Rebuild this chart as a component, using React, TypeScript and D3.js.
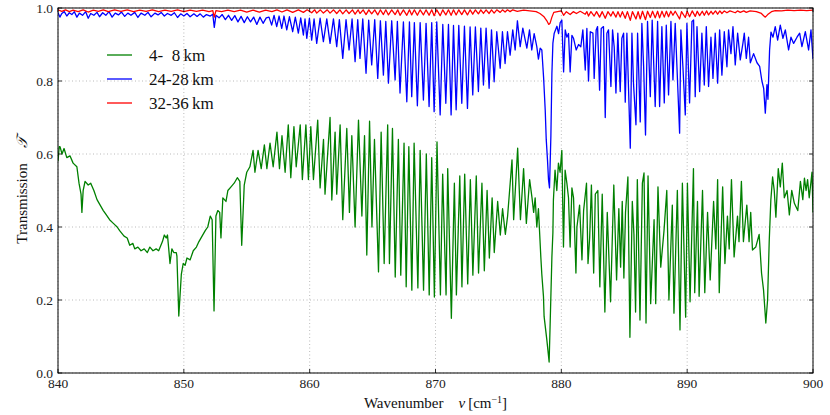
import * as d3 from "d3";

// transmission spectra, [wavenumber cm^-1, transmission]
const green4to8: [number, number][] = [
  [840.0, 0.58], [840.1, 0.62], [840.16, 0.62], [840.32, 0.6], [840.48, 0.615], [840.7, 0.59],
  [840.95, 0.595], [841.2, 0.575], [841.5, 0.565], [841.67, 0.52], [841.83, 0.49], [841.9, 0.44],
  [842.0, 0.5], [842.15, 0.525], [842.4, 0.515], [842.6, 0.52], [842.85, 0.5], [843.1, 0.475],
  [843.35, 0.46], [843.6, 0.445], [843.8, 0.435], [844.1, 0.42], [844.4, 0.41], [844.7, 0.4],
  [844.9, 0.39], [845.25, 0.375], [845.5, 0.37], [845.7, 0.35], [845.95, 0.355], [846.1, 0.34],
  [846.35, 0.345], [846.6, 0.335], [846.85, 0.34], [847.1, 0.33], [847.3, 0.345], [847.55, 0.335],
  [847.8, 0.34], [848.0, 0.335], [848.3, 0.36], [848.45, 0.378], [848.6, 0.37], [848.7, 0.378],
  [848.8, 0.34], [848.9, 0.3], [849.05, 0.34], [849.2, 0.33], [849.4, 0.33], [849.45, 0.32],
  [849.6, 0.156], [849.8, 0.27], [849.95, 0.3], [850.1, 0.295], [850.25, 0.315], [850.5, 0.31],
  [850.75, 0.335], [851.0, 0.345], [851.2, 0.36], [851.45, 0.375], [851.7, 0.39], [851.9, 0.4],
  [852.1, 0.43], [852.25, 0.42], [852.4, 0.17], [852.55, 0.43], [852.7, 0.445], [852.85, 0.44],
  [852.95, 0.37], [853.1, 0.48], [853.35, 0.47], [853.5, 0.5], [853.75, 0.51], [854.0, 0.52],
  [854.25, 0.535], [854.45, 0.525], [854.6, 0.35], [854.8, 0.515], [855.0, 0.55], [855.25, 0.565],
  [855.5, 0.61], [855.65, 0.55], [855.9, 0.61], [856.15, 0.56], [856.4, 0.625], [856.6, 0.56],
  [856.85, 0.63], [857.1, 0.565], [857.4, 0.66], [857.6, 0.56], [857.8, 0.65], [858.05, 0.55],
  [858.3, 0.68], [858.5, 0.535], [858.75, 0.675], [858.93, 0.565], [859.25, 0.68], [859.42, 0.53],
  [859.7, 0.68], [859.9, 0.53], [860.09, 0.675], [860.3, 0.53], [860.64, 0.693], [860.83, 0.507],
  [861.1, 0.64], [861.22, 0.49], [861.62, 0.7], [861.76, 0.474], [862.02, 0.66], [862.15, 0.49],
  [862.42, 0.68], [862.63, 0.42], [862.95, 0.67], [863.16, 0.44], [863.35, 0.65], [863.61, 0.4],
  [863.88, 0.693], [864.15, 0.43], [864.36, 0.65], [864.54, 0.323], [864.76, 0.69], [864.95, 0.4],
  [865.15, 0.64], [865.47, 0.277], [865.68, 0.66], [865.92, 0.3], [866.2, 0.68], [866.34, 0.3],
  [866.58, 0.67], [866.8, 0.263], [867.05, 0.64], [867.24, 0.268], [867.5, 0.63], [867.67, 0.236],
  [867.88, 0.62], [868.12, 0.227], [868.3, 0.63], [868.6, 0.233], [868.78, 0.61], [869.05, 0.227],
  [869.27, 0.6], [869.5, 0.214], [869.7, 0.59], [869.91, 0.208], [870.12, 0.633], [870.39, 0.214],
  [870.57, 0.545], [870.84, 0.214], [870.97, 0.56], [871.26, 0.15], [871.5, 0.52], [871.66, 0.214],
  [871.93, 0.54], [872.1, 0.236], [872.32, 0.545], [872.56, 0.244], [872.77, 0.53], [872.97, 0.268],
  [873.24, 0.54], [873.42, 0.274], [873.69, 0.52], [873.88, 0.28], [874.1, 0.5], [874.28, 0.315],
  [874.5, 0.48], [874.67, 0.33], [874.94, 0.47], [875.15, 0.378], [875.33, 0.45], [875.55, 0.38],
  [875.73, 0.43], [876.08, 0.584], [876.21, 0.42], [876.53, 0.616], [876.75, 0.42], [877.0, 0.56],
  [877.22, 0.41], [877.48, 0.53], [877.67, 0.48], [877.8, 0.44], [877.92, 0.48], [878.05, 0.4],
  [878.18, 0.45], [878.37, 0.318], [878.45, 0.27], [878.58, 0.21], [878.63, 0.155], [878.85, 0.09],
  [879.03, 0.03], [879.1, 0.12], [879.25, 0.318], [879.33, 0.385], [879.37, 0.474], [879.5, 0.556],
  [879.64, 0.5], [879.77, 0.575], [879.9, 0.55], [880.04, 0.61], [880.17, 0.345], [880.3, 0.556],
  [880.44, 0.52], [880.57, 0.48], [880.7, 0.345], [880.84, 0.507], [880.97, 0.48], [881.16, 0.274],
  [881.24, 0.4], [881.45, 0.46], [881.64, 0.31], [881.77, 0.445], [882.0, 0.52], [882.12, 0.3],
  [882.25, 0.37], [882.39, 0.515], [882.57, 0.274], [882.7, 0.49], [882.9, 0.5], [883.06, 0.236],
  [883.25, 0.49], [883.46, 0.167], [883.65, 0.44], [883.91, 0.195], [884.17, 0.515], [884.39, 0.255],
  [884.57, 0.45], [884.71, 0.29], [884.84, 0.47], [884.97, 0.26], [885.1, 0.44], [885.29, 0.537],
  [885.45, 0.098], [885.64, 0.47], [885.77, 0.38], [885.9, 0.167], [886.04, 0.53], [886.25, 0.145],
  [886.44, 0.52], [886.57, 0.548], [886.73, 0.137], [886.89, 0.54], [887.1, 0.19], [887.37, 0.42],
  [887.5, 0.19], [887.68, 0.51], [887.9, 0.29], [888.16, 0.39], [888.38, 0.5], [888.55, 0.2],
  [888.82, 0.46], [888.95, 0.164], [889.22, 0.5], [889.43, 0.118], [889.62, 0.52], [889.88, 0.153],
  [890.02, 0.52], [890.23, 0.195], [890.5, 0.56], [890.6, 0.22], [890.82, 0.47], [890.95, 0.21],
  [891.22, 0.5], [891.4, 0.22], [891.62, 0.44], [891.83, 0.255], [892.1, 0.47], [892.28, 0.34],
  [892.42, 0.53], [892.55, 0.22], [892.82, 0.51], [893.0, 0.3], [893.2, 0.43], [893.34, 0.34],
  [893.52, 0.53], [893.73, 0.318], [894.0, 0.43], [894.12, 0.36], [894.31, 0.525], [894.47, 0.36],
  [894.74, 0.46], [894.92, 0.36], [895.05, 0.44], [895.19, 0.337], [895.45, 0.345], [895.72, 0.38],
  [895.91, 0.274], [896.07, 0.227], [896.25, 0.137], [896.39, 0.2], [896.52, 0.36], [896.65, 0.474],
  [896.79, 0.537], [896.92, 0.5], [897.05, 0.427], [897.24, 0.56], [897.4, 0.51], [897.56, 0.575],
  [897.72, 0.48], [897.94, 0.5], [898.12, 0.433], [898.31, 0.5], [898.52, 0.465], [898.79, 0.445],
  [899.0, 0.525], [899.19, 0.475], [899.32, 0.534], [899.45, 0.5], [899.57, 0.53], [899.7, 0.48],
  [899.92, 0.55], [900.0, 0.44],
];

const blue24to28: [number, number][] = [
  [840.0, 0.988], [840.15, 0.975], [840.3, 0.985], [840.5, 0.99], [840.7, 0.978], [840.9, 0.987],
  [841.1, 0.982], [841.3, 0.99], [841.5, 0.975], [841.7, 0.986], [841.95, 0.98], [842.2, 0.99],
  [842.4, 0.972], [842.6, 0.985], [842.85, 0.98], [843.1, 0.988], [843.3, 0.976], [843.55, 0.987],
  [843.8, 0.98], [844.05, 0.99], [844.3, 0.975], [844.55, 0.986], [844.8, 0.981], [845.05, 0.989],
  [845.3, 0.977], [845.55, 0.986], [845.8, 0.98], [846.1, 0.988], [846.35, 0.974], [846.6, 0.986],
  [846.9, 0.98], [847.15, 0.988], [847.4, 0.976], [847.7, 0.986], [847.95, 0.981], [848.2, 0.988],
  [848.45, 0.978], [848.7, 0.985], [849.0, 0.98], [849.25, 0.987], [849.5, 0.974], [849.75, 0.984],
  [850.0, 0.978], [850.25, 0.985], [850.5, 0.976], [850.8, 0.984], [851.05, 0.977], [851.3, 0.984],
  [851.55, 0.975], [851.8, 0.982], [852.1, 0.978], [852.3, 0.983], [852.42, 0.947], [852.55, 0.98],
  [852.8, 0.973], [853.05, 0.982], [853.3, 0.968], [853.55, 0.98], [853.8, 0.966], [854.05, 0.979],
  [854.3, 0.962], [854.55, 0.977], [854.8, 0.96], [855.05, 0.976], [855.3, 0.962], [855.55, 0.975],
  [855.8, 0.955], [856.05, 0.975], [856.3, 0.958], [856.55, 0.973], [856.77, 0.975], [856.98, 0.953],
  [857.17, 0.98], [857.38, 0.949], [857.57, 0.978], [857.78, 0.944], [857.96, 0.978], [858.18, 0.94],
  [858.39, 0.976], [858.65, 0.935], [858.86, 0.975], [859.1, 0.931], [859.29, 0.973], [859.5, 0.926],
  [859.63, 0.97], [859.77, 0.917], [859.98, 0.972], [860.16, 0.912], [860.35, 0.97], [860.56, 0.903],
  [860.83, 0.972], [861.09, 0.908], [861.36, 0.97], [861.62, 0.903], [861.89, 0.97], [862.15, 0.894],
  [862.36, 0.968], [862.63, 0.862], [862.89, 0.968], [863.13, 0.885], [863.37, 0.97], [863.61, 0.853],
  [863.82, 0.968], [864.0, 0.862], [864.22, 0.97], [864.48, 0.821], [864.69, 0.967], [864.93, 0.844],
  [865.17, 0.968], [865.41, 0.807], [865.62, 0.965], [865.86, 0.816], [866.05, 0.963], [866.26, 0.794],
  [866.52, 0.965], [866.79, 0.803], [866.97, 0.963], [867.18, 0.767], [867.45, 0.962], [867.72, 0.743],
  [867.93, 0.962], [868.11, 0.757], [868.32, 0.96], [868.56, 0.732], [868.78, 0.96], [869.04, 0.748],
  [869.25, 0.958], [869.49, 0.73], [869.7, 0.96], [869.89, 0.716], [870.1, 0.962], [870.37, 0.707],
  [870.58, 0.955], [870.82, 0.739], [871.03, 0.955], [871.24, 0.707], [871.43, 0.952], [871.64, 0.721],
  [871.85, 0.952], [872.09, 0.739], [872.3, 0.95], [872.54, 0.725], [872.75, 0.948], [872.96, 0.762],
  [873.17, 0.948], [873.41, 0.771], [873.6, 0.945], [873.81, 0.789], [874.02, 0.945], [874.26, 0.78],
  [874.45, 0.94], [874.66, 0.798], [874.87, 0.935], [875.14, 0.835], [875.32, 0.935], [875.53, 0.848],
  [875.72, 0.935], [875.93, 0.871], [876.14, 0.94], [876.33, 0.885], [876.51, 0.965], [876.73, 0.894],
  [876.94, 0.945], [877.26, 0.89], [877.47, 0.94], [877.65, 0.885], [877.84, 0.93], [878.05, 0.894],
  [878.18, 0.86], [878.32, 0.89], [878.45, 0.885], [878.59, 0.81], [878.72, 0.72], [878.8, 0.64],
  [878.9, 0.584], [878.98, 0.53], [879.06, 0.507], [879.17, 0.65], [879.25, 0.82], [879.33, 0.904],
  [879.43, 0.93], [879.65, 0.95], [879.78, 0.93], [879.91, 0.96], [880.04, 0.967], [880.18, 0.825],
  [880.31, 0.94], [880.44, 0.92], [880.57, 0.93], [880.7, 0.825], [880.84, 0.925], [880.97, 0.917],
  [881.18, 0.885], [881.37, 0.9], [881.55, 0.894], [881.71, 0.94], [881.9, 0.83], [882.03, 0.944],
  [882.16, 0.8], [882.3, 0.935], [882.51, 0.931], [882.61, 0.807], [882.77, 0.94], [882.88, 0.949],
  [883.04, 0.775], [883.17, 0.944], [883.35, 0.949], [883.49, 0.7], [883.62, 0.931], [883.75, 0.94],
  [883.94, 0.785], [884.07, 0.94], [884.2, 0.894], [884.34, 0.767], [884.49, 0.931], [884.68, 0.771],
  [884.81, 0.917], [884.95, 0.931], [885.08, 0.742], [885.21, 0.931], [885.34, 0.78], [885.48, 0.616],
  [885.61, 0.931], [885.74, 0.79], [885.93, 0.68], [886.06, 0.931], [886.27, 0.688], [886.4, 0.958],
  [886.54, 0.84], [886.69, 0.652], [886.85, 0.963], [887.07, 0.757], [887.22, 0.967], [887.46, 0.73],
  [887.65, 0.963], [887.81, 0.73], [887.99, 0.949], [888.18, 0.74], [888.34, 0.953], [888.52, 0.762],
  [888.71, 0.963], [888.87, 0.803], [889.05, 0.958], [889.24, 0.794], [889.4, 0.657], [889.5, 0.94],
  [889.66, 0.84], [889.85, 0.707], [889.98, 0.958], [890.19, 0.74], [890.38, 0.963], [890.51, 0.967],
  [890.64, 0.757], [890.78, 0.949], [890.99, 0.771], [891.17, 0.931], [891.36, 0.789], [891.52, 0.949],
  [891.7, 0.785], [891.89, 0.92], [892.05, 0.807], [892.23, 0.931], [892.42, 0.794], [892.58, 0.94],
  [892.76, 0.816], [892.95, 0.935], [893.16, 0.839], [893.29, 0.94], [893.48, 0.875], [893.64, 0.949],
  [893.82, 0.844], [894.01, 0.931], [894.22, 0.858], [894.43, 0.903], [894.54, 0.931], [894.7, 0.862],
  [894.88, 0.92], [895.02, 0.85], [895.28, 0.875], [895.55, 0.85], [895.76, 0.84], [895.94, 0.8],
  [896.08, 0.78], [896.21, 0.712], [896.34, 0.79], [896.42, 0.75], [896.55, 0.885], [896.66, 0.934],
  [896.82, 0.92], [897.0, 0.949], [897.19, 0.912], [897.4, 0.953], [897.61, 0.917], [897.8, 0.94],
  [898.06, 0.885], [898.25, 0.92], [898.46, 0.903], [898.73, 0.92], [898.94, 0.931], [899.12, 0.894],
  [899.39, 0.935], [899.65, 0.885], [899.84, 0.94], [900.0, 0.86],
];

const red32to36: [number, number][] = [
  [840.0, 0.995], [840.3, 0.991], [840.6, 0.995], [840.9, 0.99], [841.2, 0.994], [841.6, 0.99],
  [842.0, 0.995], [842.4, 0.989], [842.8, 0.994], [843.2, 0.991], [843.6, 0.995], [844.0, 0.99],
  [844.5, 0.995], [845.0, 0.991], [845.5, 0.995], [846.0, 0.99], [846.5, 0.994], [847.0, 0.991],
  [847.5, 0.995], [848.0, 0.99], [848.5, 0.994], [849.0, 0.991], [849.5, 0.995], [850.0, 0.99],
  [850.5, 0.994], [851.0, 0.991], [851.5, 0.994], [852.0, 0.99], [852.3, 0.993], [852.42, 0.975],
  [852.55, 0.993], [853.0, 0.99], [853.5, 0.994], [854.0, 0.99], [854.5, 0.994], [855.0, 0.989],
  [855.5, 0.994], [856.0, 0.989], [856.5, 0.994], [857.0, 0.99], [857.4, 0.995], [857.8, 0.989],
  [858.2, 0.995], [858.65, 0.988], [859.1, 0.995], [859.5, 0.988], [859.8, 0.995], [860.16, 0.987],
  [860.4, 0.995], [860.56, 0.986], [860.85, 0.995], [861.09, 0.986], [861.4, 0.995], [861.62, 0.986],
  [861.9, 0.995], [862.15, 0.985], [862.4, 0.995], [862.63, 0.984], [862.9, 0.995], [863.13, 0.985],
  [863.4, 0.995], [863.61, 0.983], [863.85, 0.995], [864.0, 0.985], [864.25, 0.995], [864.48, 0.982],
  [864.7, 0.995], [864.93, 0.984], [865.17, 0.995], [865.41, 0.981], [865.62, 0.995], [865.86, 0.982],
  [866.05, 0.995], [866.26, 0.981], [866.52, 0.995], [866.79, 0.982], [867.0, 0.995], [867.18, 0.98],
  [867.45, 0.995], [867.72, 0.98], [867.93, 0.995], [868.11, 0.981], [868.32, 0.995], [868.56, 0.98],
  [868.78, 0.995], [869.04, 0.981], [869.25, 0.995], [869.49, 0.98], [869.7, 0.995], [869.89, 0.979],
  [870.1, 0.995], [870.37, 0.979], [870.58, 0.995], [870.82, 0.981], [871.03, 0.995], [871.24, 0.98],
  [871.43, 0.995], [871.64, 0.981], [871.85, 0.995], [872.09, 0.982], [872.3, 0.995], [872.54, 0.981],
  [872.75, 0.995], [872.96, 0.983], [873.17, 0.995], [873.41, 0.984], [873.6, 0.995], [873.81, 0.985],
  [874.02, 0.995], [874.26, 0.985], [874.45, 0.995], [874.66, 0.986], [874.87, 0.995], [875.14, 0.988],
  [875.32, 0.995], [875.53, 0.989], [875.72, 0.995], [875.93, 0.99], [876.14, 0.995], [876.5, 0.991],
  [877.0, 0.994], [877.5, 0.992], [878.0, 0.99], [878.3, 0.985], [878.6, 0.977], [878.85, 0.965],
  [879.0, 0.955], [879.1, 0.958], [879.25, 0.975], [879.4, 0.988], [879.7, 0.99], [880.0, 0.992],
  [880.18, 0.98], [880.4, 0.99], [880.7, 0.982], [880.95, 0.99], [881.2, 0.985], [881.5, 0.991],
  [881.9, 0.983], [882.03, 0.99], [882.16, 0.978], [882.35, 0.99], [882.61, 0.978], [882.8, 0.99],
  [883.04, 0.975], [883.25, 0.99], [883.49, 0.972], [883.7, 0.99], [883.94, 0.978], [884.1, 0.99],
  [884.34, 0.975], [884.5, 0.99], [884.68, 0.975], [884.85, 0.99], [885.08, 0.972], [885.25, 0.99],
  [885.48, 0.966], [885.65, 0.99], [885.93, 0.97], [886.1, 0.99], [886.27, 0.97], [886.45, 0.991],
  [886.69, 0.968], [886.85, 0.991], [887.07, 0.974], [887.25, 0.991], [887.46, 0.973], [887.65, 0.991],
  [887.81, 0.973], [888.0, 0.991], [888.18, 0.975], [888.35, 0.991], [888.52, 0.976], [888.7, 0.991],
  [888.87, 0.98], [889.05, 0.991], [889.4, 0.97], [889.55, 0.99], [889.85, 0.974], [890.0, 0.991],
  [890.19, 0.976], [890.4, 0.992], [890.64, 0.977], [890.8, 0.991], [890.99, 0.979], [891.2, 0.991],
  [891.36, 0.98], [891.55, 0.992], [891.7, 0.981], [891.9, 0.991], [892.05, 0.983], [892.25, 0.992],
  [892.42, 0.983], [892.6, 0.992], [892.76, 0.985], [892.95, 0.992], [893.16, 0.987], [893.4, 0.992],
  [893.82, 0.987], [894.0, 0.992], [894.22, 0.988], [894.5, 0.992], [894.7, 0.988], [895.0, 0.992],
  [895.5, 0.99], [895.9, 0.985], [896.1, 0.978], [896.21, 0.975], [896.4, 0.982], [896.7, 0.99],
  [897.0, 0.993], [897.5, 0.992], [898.0, 0.994], [898.5, 0.993], [899.0, 0.994], [899.5, 0.993],
  [900.0, 0.994],
];

const xTicks = [840, 850, 860, 870, 880, 890, 900];
const yTicks = [0.0, 0.2, 0.4, 0.6, 0.8, 1.0];
const legendLabels = ["4-\u20078\u2009km", "24-28\u2009km", "32-36\u2009km"];
const seriesColors = ["#008000", "#0000ff", "#ff0000"];

const W = 830;
const H = 415;
const margin = { left: 58, right: 17, top: 8, bottom: 42 };
const font = "'Liberation Serif', 'DejaVu Serif', serif";

export default function App() {
  const x = d3.scaleLinear().domain([840, 900]).range([margin.left, W - margin.right]);
  const y = d3.scaleLinear().domain([0, 1]).range([H - margin.bottom, margin.top]);
  const line = d3
    .line<[number, number]>()
    .x((d) => x(d[0]))
    .y((d) => y(d[1]));

  const series = [green4to8, blue24to28, red32to36];
  const [x0, x1] = x.range();
  const [y0, y1] = y.range();
  const tickLen = 4;

  return (
    <div style={{ position: "absolute", left: 0, top: 0 }}>
      <svg width={W} height={H} style={{ display: "block", background: "#fff" }}>
        <defs>
          <clipPath id="plot">
            <rect x={x0} y={y1} width={x1 - x0} height={y0 - y1} />
          </clipPath>
        </defs>

        {/* grid */}
        <g stroke="#a8a8a8" strokeWidth={0.8} strokeDasharray="1,2.5">
          {xTicks.map((t) => (
            <line key={"gx" + t} x1={x(t)} x2={x(t)} y1={y0} y2={y1} />
          ))}
          {yTicks.map((t) => (
            <line key={"gy" + t} x1={x0} x2={x1} y1={y(t)} y2={y(t)} />
          ))}
        </g>

        {/* spectra */}
        <g clipPath="url(#plot)" fill="none" strokeWidth={1.3} strokeLinejoin="round">
          {series.map((s, i) => (
            <path key={i} d={line(s) ?? ""} stroke={seriesColors[i]} />
          ))}
        </g>

        {/* frame and inward ticks on all sides */}
        <rect x={x0} y={y1} width={x1 - x0} height={y0 - y1} fill="none" stroke="#000" strokeWidth={1} />
        <g stroke="#000" strokeWidth={0.8}>
          {xTicks.map((t) => (
            <g key={"tx" + t}>
              <line x1={x(t)} x2={x(t)} y1={y0} y2={y0 - tickLen} />
              <line x1={x(t)} x2={x(t)} y1={y1} y2={y1 + tickLen} />
            </g>
          ))}
          {yTicks.map((t) => (
            <g key={"ty" + t}>
              <line x1={x0} x2={x0 + tickLen} y1={y(t)} y2={y(t)} />
              <line x1={x1} x2={x1 - tickLen} y1={y(t)} y2={y(t)} />
            </g>
          ))}
        </g>

        {/* tick labels */}
        <g fontFamily={font} fontSize={13.5} fill="#222">
          {xTicks.map((t) => (
            <text key={"lx" + t} x={x(t)} y={y0 + 15} textAnchor="middle">
              {t}
            </text>
          ))}
          {yTicks.map((t) => (
            <text key={"ly" + t} x={x0 - 5} y={y(t) + 4.5} textAnchor="end">
              {d3.format(".1f")(t)}
            </text>
          ))}
        </g>

        {/* axis labels */}
        <text x={(x0 + x1) / 2} y={H - 7} textAnchor="middle" fontFamily={font} fontSize={15} fill="#111">
          Wavenumber{"\u2003"}
          <tspan fontStyle="italic">ν</tspan>
          {"\u2009[cm"}
          <tspan dy={-5} fontSize={10}>
            −1
          </tspan>
          <tspan dy={5}>]</tspan>
        </text>
        <text
          transform={`translate(27, ${(y0 + y1) / 2}) rotate(-90)`}
          textAnchor="middle"
          fontFamily={font}
          fontSize={15}
          fill="#111"
        >
          Transmission{"\u2003"}
          <tspan fontStyle="italic">𝒯</tspan>
        </text>

        {/* legend */}
        <g fontFamily={font} fontSize={17} fill="#111">
          {legendLabels.map((lab, i) => {
            const ly = 55 + i * 24;
            return (
              <g key={lab}>
                <line x1={107} x2={132} y1={ly} y2={ly} stroke={seriesColors[i]} strokeWidth={1.3} />
                <text x={149} y={ly + 5.5}>
                  {lab}
                </text>
              </g>
            );
          })}
        </g>
      </svg>
    </div>
  );
}
